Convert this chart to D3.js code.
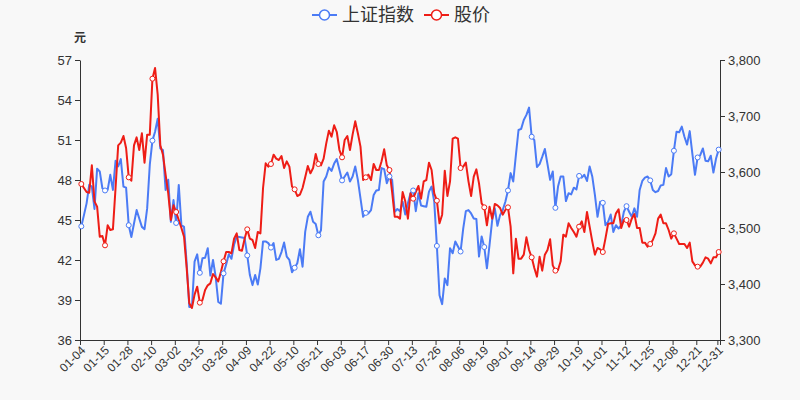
<!DOCTYPE html>
<html>
<head>
<meta charset="utf-8">
<script src="https://cdn.jsdelivr.net/npm/d3@7"></script>
<style>
  html, body { margin: 0; padding: 0; background: #f8f8f8; }
  svg { display: block; font-family: "Liberation Sans", Arial, "Noto Sans CJK SC", sans-serif; }
</style>
</head>
<body>
<svg id="chart" width="800" height="400"></svg>
<script>
// ---- data ----
const dates = [
"01-04","01-05","01-06","01-07","01-08","01-11","01-12","01-13","01-14","01-15","01-18","01-19","01-20","01-21","01-22","01-25","01-26","01-27","01-28","01-29",
"02-01","02-02","02-03","02-04","02-05","02-08","02-09","02-10","02-18","02-19","02-22","02-23","02-24","02-25","02-26",
"03-01","03-02","03-03","03-04","03-05","03-08","03-09","03-10","03-11","03-12","03-15","03-16","03-17","03-18","03-19","03-22","03-23","03-24","03-25","03-26","03-29","03-30","03-31",
"04-01","04-02","04-06","04-07","04-08","04-09","04-12","04-13","04-14","04-15","04-16","04-19","04-20","04-21","04-22","04-23","04-26","04-27","04-28","04-29","04-30",
"05-06","05-07","05-10","05-11","05-12","05-13","05-14","05-17","05-18","05-19","05-20","05-21","05-24","05-25","05-26","05-27","05-28","05-31",
"06-01","06-02","06-03","06-04","06-07","06-08","06-09","06-10","06-11","06-15","06-16","06-17","06-18","06-21","06-22","06-23","06-24","06-25","06-28","06-29","06-30",
"07-01","07-02","07-05","07-06","07-07","07-08","07-09","07-12","07-13","07-14","07-15","07-16","07-19","07-20","07-21","07-22","07-23","07-26","07-27","07-28","07-29","07-30",
"08-02","08-03","08-04","08-05","08-06","08-09","08-10","08-11","08-12","08-13","08-16","08-17","08-18","08-19","08-20","08-23","08-24","08-25","08-26","08-27","08-30","08-31",
"09-01","09-02","09-03","09-06","09-07","09-08","09-09","09-10","09-13","09-14","09-15","09-16","09-17","09-22","09-23","09-24","09-27","09-28","09-29","09-30",
"10-08","10-11","10-12","10-13","10-14","10-15","10-18","10-19","10-20","10-21","10-22","10-25","10-26","10-27","10-28","10-29",
"11-01","11-02","11-03","11-04","11-05","11-08","11-09","11-10","11-11","11-12","11-15","11-16","11-17","11-18","11-19","11-22","11-23","11-24","11-25","11-26","11-29","11-30",
"12-01","12-02","12-03","12-06","12-07","12-08","12-09","12-10","12-13","12-14","12-15","12-16","12-17","12-20","12-21","12-22","12-23","12-24","12-27","12-28","12-29","12-30","12-31"
];

// 上证指数 (right axis)
const indexValues = [
3503,3523,3544,3577,3574,3534,3606,3601,3571,3567,3568,3595,3568,3620,3610,3623,3574,3572,3505,3484,
3508,3532,3517,3502,3498,3535,3613,3656,3672,3695,3642,3639,3568,3586,3511,
3550,3509,3577,3505,3502,3437,3359,3359,3440,3453,3420,3446,3447,3464,3415,3443,3413,3368,3365,3419,3435,3453,3445,
3470,3485,3484,3483,3482,3451,3416,3398,3416,3399,3428,3476,3476,3473,3465,3473,3443,3445,3457,3474,3449,
3443,3421,3429,3437,3462,3431,3493,3520,3529,3511,3507,3487,3496,3583,3592,3608,3602,3615,
3623,3604,3585,3592,3599,3583,3592,3610,3586,3553,3520,3527,3526,3532,3559,3567,3568,3607,3605,3580,3592,
3586,3529,3534,3530,3547,3524,3544,3562,3567,3530,3562,3540,3539,3538,3565,3574,3547,3468,3380,3364,3410,3398,
3464,3455,3476,3467,3458,3499,3530,3532,3526,3517,3516,3449,3485,3466,3428,3470,3514,3535,3504,3523,3532,3547,
3567,3598,3583,3630,3675,3677,3693,3702,3715,3663,3657,3609,3614,3627,3641,3614,3586,3601,3536,3574,
3592,3592,3548,3562,3560,3572,3569,3593,3590,3595,3584,3610,3592,3559,3520,3547,
3545,3505,3511,3524,3493,3505,3499,3505,3529,3539,3529,3520,3535,3520,3568,3584,3590,3592,3585,3568,3564,3566,
3576,3577,3607,3592,3596,3638,3672,3671,3681,3663,3649,3673,3633,3595,3626,3630,3642,3620,3619,3629,3599,3624,3640
];

// 股价 (left axis, 元)
const priceValues = [
47.7,47.4,47.1,47.05,49.1,46.4,46.0,43.75,43.8,43.1,44.6,44.25,44.3,47.4,50.6,50.8,51.3,50.4,48.2,47.95,
50.6,51.2,50.25,51.5,49.3,51.4,51.4,55.6,56.4,54.4,50.6,49.9,48.4,47.0,45.0,
46.1,45.6,45.0,44.4,43.75,41.4,38.75,38.4,39.4,40.0,38.8,39.0,39.75,40.1,40.25,40.95,40.7,40.4,41.1,41.9,42.6,42.6,42.5,
43.6,44.0,42.75,42.7,43.6,44.3,43.6,43.5,42.9,44.1,44.0,47.4,49.25,49.0,49.2,49.9,49.6,49.5,49.8,48.9,49.4,
49.0,47.5,47.3,46.8,46.9,47.4,48.2,49.05,48.5,48.9,49.95,49.2,49.1,49.6,50.75,51.7,51.25,52.1,
51.6,50.25,49.7,51.0,51.3,50.25,51.4,52.4,51.5,50.5,48.0,48.2,48.4,48.0,49.2,48.75,48.75,49.4,50.3,49.1,48.75,
47.1,45.25,45.25,45.1,47.1,46.4,45.1,47.0,46.6,47.1,47.55,46.6,47.9,48.0,49.3,48.75,47.0,46.45,44.75,45.4,48.7,46.8,
47.9,51.1,51.2,51.1,48.9,49.0,49.3,47.9,46.8,48.25,48.8,47.75,46.25,45.95,44.6,46.0,45.1,46.2,46.1,45.9,45.4,45.75,
45.95,44.5,41.0,43.6,42.1,42.1,42.4,43.7,42.75,42.2,41.4,40.75,42.25,41.2,42.4,42.75,43.55,41.6,41.2,41.25,
41.9,43.9,43.75,44.75,44.4,44.1,43.75,44.5,44.9,44.1,45.6,44.5,43.4,42.4,42.9,42.8,
42.6,43.6,44.7,44.75,44.75,45.5,45.8,44.4,45.0,45.0,44.5,45.1,45.45,44.4,44.4,43.3,43.3,43.0,43.2,43.5,44.0,45.1,
45.4,44.75,44.75,44.25,43.6,44.0,43.6,43.2,43.2,43.2,42.9,43.3,41.9,41.6,41.5,41.5,41.8,42.2,42.1,41.75,42.2,42.2,42.6
];

const leftTicks = [36, 39, 42, 45, 48, 51, 54, 57];
const rightTicks = [3300, 3400, 3500, 3600, 3700, 3800];
const seriesNames = ["上证指数", "股价"];
const seriesColors = ["#4b7bf5", "#ee1d16"];
const leftUnit = "元";

// ---- chart ----
const svg = d3.select("#chart");
const W = 800, H = 400;
const m = { left: 80, right: 80, top: 60, bottom: 60 };
const x0 = m.left, x1 = W - m.right, yTop = m.top, yBot = H - m.bottom;
const axisColor = "#333";
const textColor = "#333";

svg.append("rect").attr("width", W).attr("height", H).attr("fill", "#f8f8f8");

const n = dates.length;
const x = d3.scaleBand().domain(d3.range(n)).range([x0, x1]).paddingInner(0).paddingOuter(0);
const bw = x.bandwidth();
const cx = i => x(i) + bw / 2;
const yL = d3.scaleLinear().domain([36, 57]).range([yBot, yTop]);
const yR = d3.scaleLinear().domain([3300, 3800]).range([yBot, yTop]);

// label indices: every 9th trading day plus the last one
const labelIdx = d3.range(0, n, 9);
if (labelIdx[labelIdx.length - 1] !== n - 1) labelIdx.push(n - 1);

// left axis
const gL = svg.append("g").attr("transform", `translate(${x0},0)`)
  .call(d3.axisLeft(yL).tickValues(leftTicks).tickSize(5).tickPadding(3).tickSizeOuter(0));
gL.selectAll("path,line").attr("stroke", axisColor);
gL.selectAll("text").attr("fill", textColor).style("font-size", "13px").style("font-family", "Liberation Sans, Arial, sans-serif");

// right axis
const gR = svg.append("g").attr("transform", `translate(${x1},0)`)
  .call(d3.axisRight(yR).tickValues(rightTicks).tickFormat(d3.format(",")).tickSize(5).tickPadding(3).tickSizeOuter(0));
gR.selectAll("path,line").attr("stroke", axisColor);
gR.selectAll("text").attr("fill", textColor).style("font-size", "13px").style("font-family", "Liberation Sans, Arial, sans-serif");

// bottom axis (ticks at band starts, like the reference)
const gB = svg.append("g");
gB.append("line").attr("x1", x0).attr("x2", x1).attr("y1", yBot + 0.5).attr("y2", yBot + 0.5).attr("stroke", axisColor);
gB.selectAll("line.tk").data(labelIdx.concat([n])).enter().append("line")
  .attr("class", "tk")
  .attr("x1", d => (d === n ? x1 : x(d)) + 0.5).attr("x2", d => (d === n ? x1 : x(d)) + 0.5)
  .attr("y1", yBot).attr("y2", yBot + 5).attr("stroke", axisColor);
gB.selectAll("text").data(labelIdx).enter().append("text")
  .attr("transform", d => `translate(${cx(d) + 2},${yBot + 8}) rotate(-45)`)
  .attr("text-anchor", "end").attr("dy", "0.35em")
  .attr("fill", textColor).style("font-size", "12px").style("font-family", "Liberation Sans, Arial, sans-serif")
  .text(d => dates[d]);

// unit label
svg.append("text").attr("x", x0).attr("y", 42).attr("text-anchor", "middle")
  .attr("fill", textColor).style("font-size", "12px").style("font-weight", "bold")
  .style("font-family", "Noto Sans CJK SC, sans-serif").text(leftUnit);

// lines
const lineIdx = d3.line().x((d, i) => cx(i)).y(d => yR(d));
const linePrice = d3.line().x((d, i) => cx(i)).y(d => yL(d));
svg.append("path").datum(indexValues).attr("d", lineIdx).attr("fill", "none")
  .attr("stroke", seriesColors[0]).attr("stroke-width", 2).attr("stroke-linejoin", "round");
svg.append("path").datum(priceValues).attr("d", linePrice).attr("fill", "none")
  .attr("stroke", seriesColors[1]).attr("stroke-width", 2).attr("stroke-linejoin", "round");

// markers at labeled points
svg.append("g").selectAll("circle").data(labelIdx).enter().append("circle")
  .attr("cx", d => cx(d)).attr("cy", d => yR(indexValues[d])).attr("r", 2.5)
  .attr("fill", "#fff").attr("stroke", seriesColors[0]).attr("stroke-width", 1);
svg.append("g").selectAll("circle").data(labelIdx).enter().append("circle")
  .attr("cx", d => cx(d)).attr("cy", d => yL(priceValues[d])).attr("r", 2.5)
  .attr("fill", "#fff").attr("stroke", seriesColors[1]).attr("stroke-width", 1);

// legend
const legend = svg.append("g").attr("transform", "translate(0,15)");
const legendFont = 18;
let lx = 312;
seriesNames.forEach((name, k) => {
  const g = legend.append("g").attr("transform", `translate(${lx},0)`);
  g.append("line").attr("x1", 0).attr("x2", 25).attr("y1", 0).attr("y2", 0)
    .attr("stroke", seriesColors[k]).attr("stroke-width", 2);
  g.append("circle").attr("cx", 12.5).attr("cy", 0).attr("r", 5)
    .attr("fill", "#fff").attr("stroke", seriesColors[k]).attr("stroke-width", 1.5);
  const t = g.append("text").attr("x", 30).attr("y", 0).attr("dy", "0.36em")
    .attr("fill", textColor).style("font-size", legendFont + "px")
    .style("font-family", "Noto Sans CJK SC, sans-serif").text(name);
  lx += 30 + t.node().getComputedTextLength() + 10;
});
</script>
</body>
</html>
